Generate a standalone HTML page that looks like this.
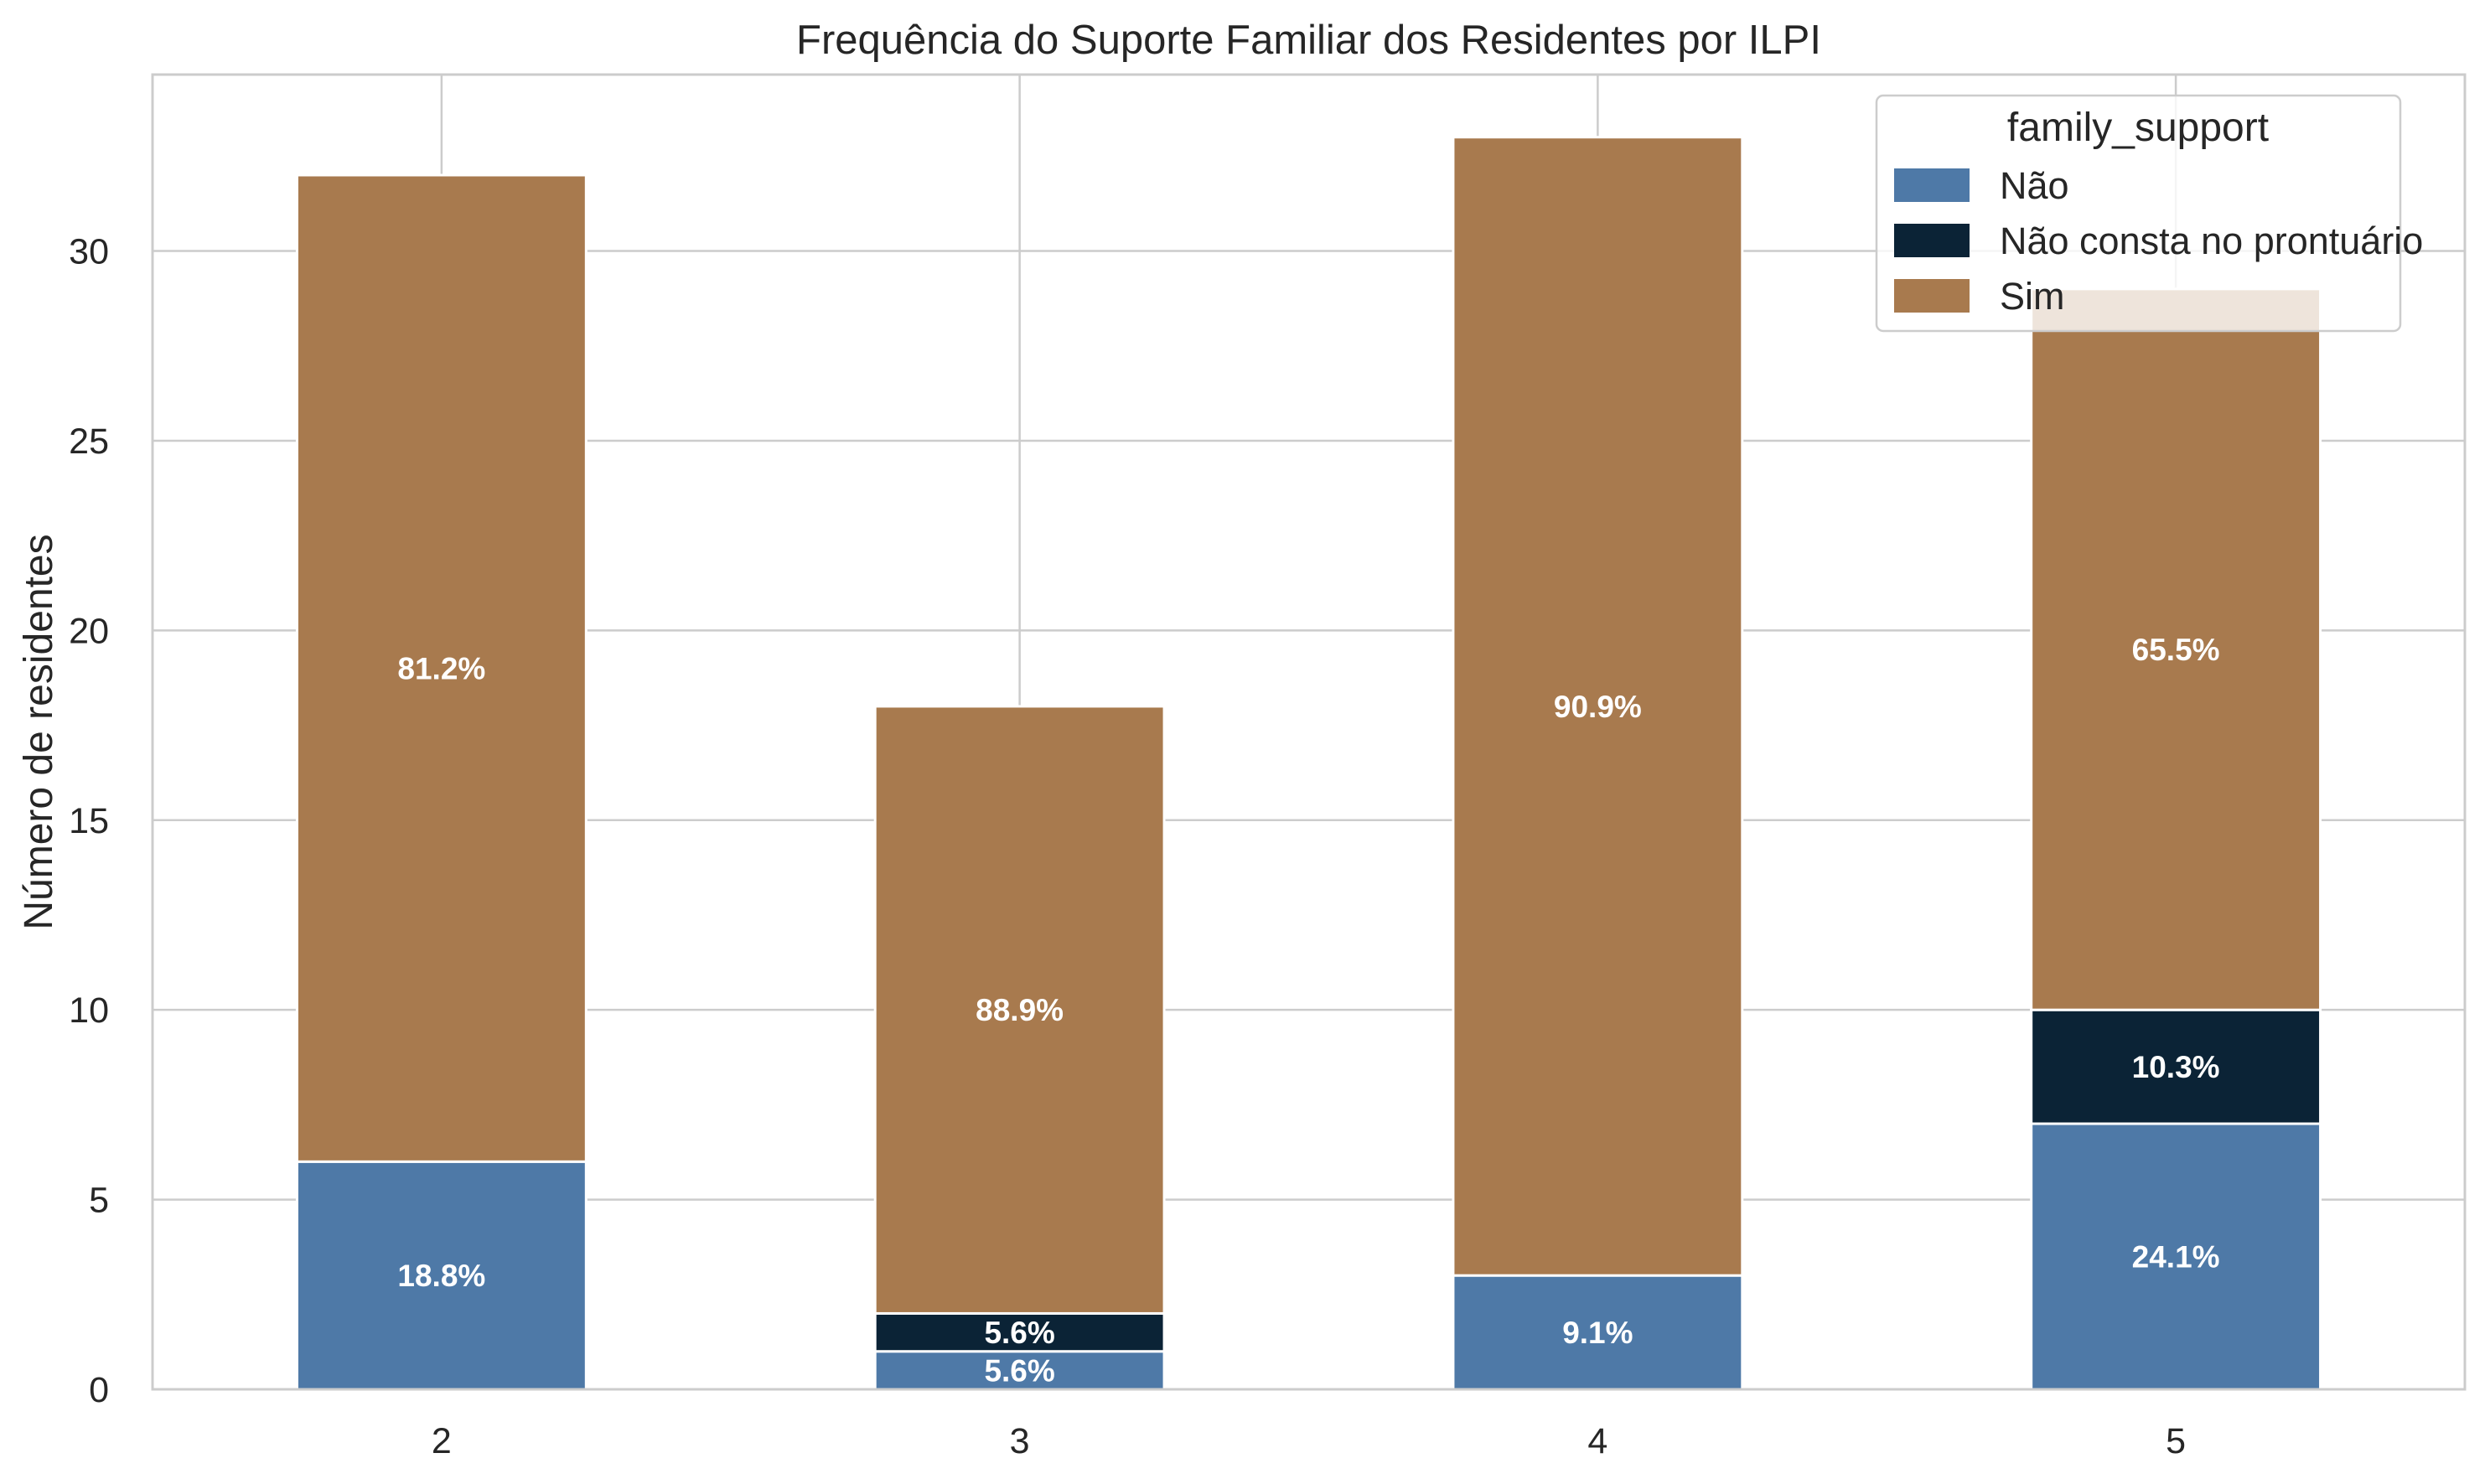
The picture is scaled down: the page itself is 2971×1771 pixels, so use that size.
<!DOCTYPE html>
<html><head><meta charset="utf-8"><style>body{margin:0;background:#fff}svg{display:block;font-family:"Liberation Sans",sans-serif}</style></head>
<body>
<svg id="chart" width="2971" height="1771" viewBox="0 0 2971 1771" xmlns="http://www.w3.org/2000/svg"></svg>
<script>
const categories = ["2","3","4","5"];
const seriesNames = ["Não","Não consta no prontuário","Sim"];
const naoValues = [6,1,3,7];
const ncaValues = [0,1,0,3];
const simValues = [26,16,30,19];
const yTicks = [0,5,10,15,20,25,30];
const colors = ["#4e79a7","#0b2336","#a87a4e"];

const L=182,R=2941,T=89,B=1658,yMax=34.65;
const xS=i=>L+(i+0.5)*(R-L)/4;
const yS=v=>B-v*(B-T)/yMax;
const NS="http://www.w3.org/2000/svg";
const svg=document.getElementById('chart');
function mk(tag,attrs,parent){const e=document.createElementNS(NS,tag);for(const k in attrs)e.setAttribute(k,attrs[k]);(parent||svg).appendChild(e);return e;}
function fmt(p){const x=p*10;const f=Math.floor(x);const d=x-f;let r;if(Math.abs(d-0.5)<1e-9)r=(f%2===0)?f:f+1;else r=Math.round(x);return (r/10).toFixed(1);}

const grid=mk('g',{});


yTicks.forEach(t=>{mk('line',{x1:L,x2:R,y1:yS(t),y2:yS(t),stroke:'#cccccc','stroke-width':2.5},grid);
 const tx=mk('text',{x:L-52,y:yS(t)+15,'text-anchor':'end','font-size':43,fill:'#262626'});tx.textContent=t;
 
 });
categories.forEach((c,i)=>{mk('line',{x1:xS(i),x2:xS(i),y1:T,y2:B,stroke:'#cccccc','stroke-width':2.5},grid);
 const tx=mk('text',{x:xS(i),y:B+76,'text-anchor':'middle','font-size':43,fill:'#262626'});tx.textContent=c;
 
 });

const series=[naoValues,ncaValues,simValues];
const bw=(R-L)/4*0.5;
categories.forEach((c,i)=>{
 const total=naoValues[i]+ncaValues[i]+simValues[i];
 let base=0;
 series.forEach((vals,s)=>{
  const v=vals[i];
  if(v>0){
   const r=mk('rect',{x:xS(i)-bw/2,y:yS(base+v),width:bw,height:yS(base)-yS(base+v),fill:colors[s],stroke:'#fff','stroke-width':3});
   
   
   const tx=mk('text',{x:xS(i),y:yS(base+v/2)+13,'text-anchor':'middle','font-size':37,'font-weight':'bold',fill:'#fff'});
   tx.textContent=fmt(v/total*100)+'%';
   
   
  }
  base+=v;
 });
});

const sp=mk('rect',{x:L,y:T,width:R-L,height:B-T,fill:'none',stroke:'#cccccc','stroke-width':3});



const title=mk('text',{x:(L+R)/2,y:64,'text-anchor':'middle','font-size':49,fill:'#262626'});
title.textContent='Frequência do Suporte Familiar dos Residentes por ILPI';


const yl=mk('text',{x:62,y:(T+B)/2,'text-anchor':'middle','font-size':48,fill:'#262626',transform:`rotate(-90 62 ${(T+B)/2})`});
yl.textContent='Número de residentes';



const lg=mk('g',{});


mk('rect',{x:2239,y:114,width:625,height:281,rx:8,fill:'#fff','fill-opacity':0.8,stroke:'#cccccc','stroke-width':2.5},lg);
const lt=mk('text',{x:2551,y:168,'text-anchor':'middle','font-size':48,fill:'#262626'},lg);lt.textContent='family_support';


seriesNames.forEach((n,s)=>{
 const yc=221+s*66;
 mk('rect',{x:2260,y:yc-20,width:90,height:40,fill:colors[s]},lg);
 const t=mk('text',{x:2386,y:yc+16,'font-size':45,fill:'#262626'},lg);t.textContent=n;
 
 
});
</script>
</body></html>
